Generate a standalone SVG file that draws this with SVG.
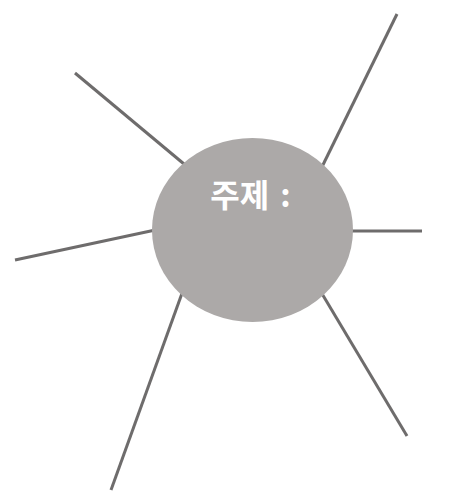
<svg xmlns="http://www.w3.org/2000/svg" width="450" height="504" viewBox="0 0 450 504">
<style>
.ray{stroke:#6e6c6c;stroke-width:3;stroke-linecap:butt;fill:none}
.topic{fill:#aca9a8}
.lbl{font-family:"Noto Sans CJK KR","Noto Sans",sans-serif;font-weight:bold;font-size:32px;fill:#ffffff}
</style>
<rect width="450" height="504" fill="#ffffff"/>
<g id="connectors">
<line class="ray" x1="190" y1="169" x2="75" y2="73"/>
<line class="ray" x1="160" y1="229" x2="15" y2="260"/>
<line class="ray" x1="185" y1="285" x2="111" y2="490"/>
<line class="ray" x1="318" y1="175" x2="397" y2="14"/>
<line class="ray" x1="345" y1="231" x2="422" y2="231"/>
<line class="ray" x1="318" y1="287" x2="407" y2="436"/>
</g>
<g id="topic">
<ellipse class="topic" cx="252.5" cy="230" rx="100.5" ry="92"/>
<text class="lbl" x="250.5" y="207" text-anchor="middle" xml:space="preserve">주제<tspan dx="4"> :</tspan></text>
</g>
</svg>
